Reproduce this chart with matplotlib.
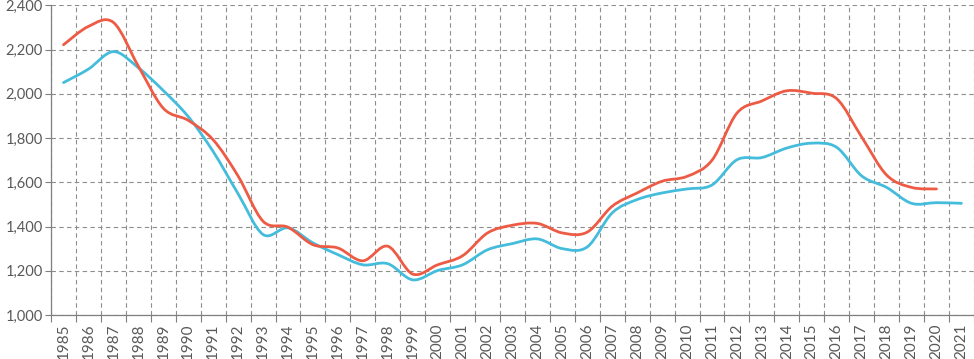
import matplotlib
matplotlib.use("Agg")
import matplotlib.pyplot as plt
from matplotlib.path import Path
from matplotlib.patches import PathPatch
from matplotlib.ticker import FixedLocator, FuncFormatter
import numpy as np

years = [str(y) for y in range(1985, 2022)]
red_values = [2222, 2305, 2323, 2125, 1935, 1880, 1792, 1628, 1424, 1397, 1318, 1303,
              1245, 1311, 1185, 1227, 1268, 1371, 1406, 1414, 1371, 1375, 1492, 1552,
              1605, 1627, 1700, 1913, 1968, 2014, 2003, 1978, 1805, 1633, 1577, 1570]
blue_values = [2051, 2112, 2191, 2118, 2015, 1897, 1739, 1548, 1364, 1394, 1326, 1273,
               1227, 1232, 1159, 1201, 1227, 1295, 1323, 1344, 1300, 1308, 1462, 1522,
               1552, 1570, 1588, 1702, 1712, 1755, 1777, 1758, 1629, 1577, 1505, 1508, 1505]
y_ticks = [1000, 1200, 1400, 1600, 1800, 2000, 2200, 2400]

RED = "#EE5B45"
BLUE = "#44BCDB"
GRID = "#8E8E8E"
TEXT = "#595959"

fig = plt.figure(figsize=(9.74, 3.59), dpi=100)
ax = fig.add_axes([51.06 / 974, 44 / 359, (973.9 - 51.06) / 974, (315 - 5.4) / 359])


def smooth_path(xs, ys):
    pts = np.column_stack([xs, ys]).astype(float)
    n = len(pts)
    verts = [pts[0]]
    codes = [Path.MOVETO]
    for i in range(n - 1):
        p0 = pts[i - 1] if i > 0 else pts[i]
        p1 = pts[i]
        p2 = pts[i + 1]
        p3 = pts[i + 2] if i + 2 < n else pts[i + 1]
        c1 = p1 + (p2 - p0) / 6.0
        c2 = p2 - (p3 - p1) / 6.0
        verts += [c1, c2, p2]
        codes += [Path.CURVE4] * 3
    return Path(verts, codes)


for vals, col in [(blue_values, BLUE), (red_values, RED)]:
    xs = np.arange(len(vals))
    patch = PathPatch(smooth_path(xs, vals), facecolor="none", edgecolor=col,
                      lw=2.0, capstyle="round", joinstyle="round", zorder=3)
    ax.add_patch(patch)

ax.set_xlim(-0.5, len(years) - 0.5)
ax.set_ylim(1000, 2400)

# category boundaries (major) and centers (minor, labelled)
ax.xaxis.set_major_locator(FixedLocator(np.arange(len(years) + 1) - 0.5))
ax.xaxis.set_major_formatter(FuncFormatter(lambda v, p: ""))
ax.set_xticks(np.arange(len(years)), years, minor=True)
ax.tick_params(axis="x", which="minor", length=0, rotation=90, labelsize=11,
               labelcolor=TEXT, pad=6)
ax.tick_params(axis="x", which="major", length=5, color="#7F7F7F", width=0.8)

ax.set_yticks(y_ticks)
ax.yaxis.set_major_formatter(FuncFormatter(lambda v, p: f"{int(v):,}"))
ax.tick_params(axis="y", length=4, color="#7F7F7F", width=0.8, labelsize=10.5,
               labelcolor=TEXT, pad=2)

for lab in ax.get_xticklabels(minor=True) + ax.get_yticklabels():
    lab.set_fontfamily("Lato")

ax.grid(True, which="major", axis="both", color=GRID, linestyle=(0, (4, 3)), lw=0.8)
ax.set_axisbelow(True)

for s in ["top", "right"]:
    ax.spines[s].set_visible(False)
for s in ["left", "bottom"]:
    ax.spines[s].set_color("#7F7F7F")
    ax.spines[s].set_linewidth(0.9)

fig.savefig("out.png", dpi=100)
